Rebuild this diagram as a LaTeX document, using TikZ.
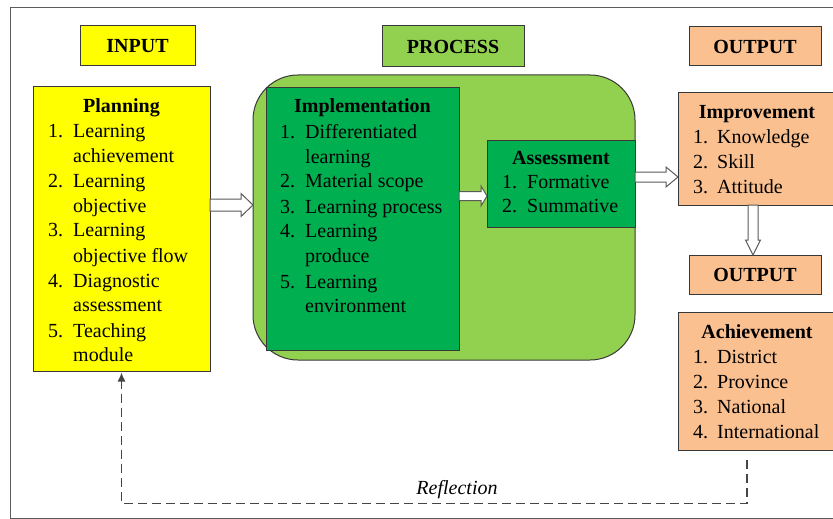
\documentclass[tikz,border=0pt]{standalone}
\usepackage{fontspec}
\setmainfont{Liberation Serif}
\usetikzlibrary{calc,arrows.meta}

\definecolor{inyellow}{HTML}{FFFF00}
\definecolor{procgreen}{HTML}{92D050}
\definecolor{stepgreen}{HTML}{00B050}
\definecolor{outpeach}{HTML}{FAC090}
\definecolor{boxline}{HTML}{383838}
\definecolor{arrowline}{HTML}{5A5A5A}
\definecolor{frameline}{HTML}{5C5C5C}
\definecolor{loopline}{HTML}{454545}

\newcommand{\diagfont}{\fontsize{20}{25}\selectfont}

% white block arrow pointing right, from tail #1 to tip #2
% #3 half shaft width, #4 half head width, #5 head length
\newcommand{\rightblockarrow}[5]{%
  \draw[blockarr] let \p1=#1, \p2=#2 in
    (\x1,\y1+#3) -- (\x2-#5,\y1+#3) -- (\x2-#5,\y1+#4) -- (\x2,\y1)
    -- (\x2-#5,\y1-#4) -- (\x2-#5,\y1-#3) -- (\x1,\y1-#3) -- cycle;}

\begin{document}
\begin{tikzpicture}[x=1pt,y=-1pt,font=\diagfont,
  boxbase/.style={draw=boxline,line width=1pt,inner sep=0pt,outer sep=0pt,anchor=north west},
  labelbox/.style={boxbase,anchor=north west,font=\diagfont\bfseries},
  titletext/.style={anchor=base,inner sep=0pt,font=\diagfont\bfseries},
  listtext/.style={anchor=base west,inner sep=0pt},
  blockarr/.style={draw=arrowline,fill=white,line width=1pt,line join=miter},
  reflline/.style={draw=loopline,line width=1.4pt,dash pattern=on 9pt off 5pt,
    shorten >=1.5pt,-{Latex[length=9pt,width=8pt]}}]

\useasboundingbox (0,0) rectangle (833,519);
\clip (0,0) rectangle (833,519);

% outer frame
\draw[frameline,line width=0.9pt] (10.5,7) rectangle (850,518);

% column headings
\node[labelbox,fill=inyellow,minimum width=115pt,minimum height=40pt] (inlabel) at (80,26) {INPUT};
\node[labelbox,fill=procgreen,minimum width=142pt,minimum height=41pt] (proclabel) at (382,26) {PROCESS};
\node[labelbox,fill=outpeach,minimum width=132pt,minimum height=39pt] (outlabel) at (689,27) {OUTPUT};

% input: planning
\node[boxbase,fill=inyellow,minimum width=177pt,minimum height=284pt] (plan) at (33,87) {};
\node[titletext] (plantitle) at ([yshift=-25pt]plan.north) {Planning};
\node[listtext] (planlist) at ([xshift=15pt,yshift=-50pt]plan.north west) {%
  \begin{tabular}[t]{@{}p{25pt}@{}l@{}}
  1. & Learning\\
     & achievement\\
  2. & Learning\\
     & objective\\
  3. & Learning\\
     & objective flow\\
  4. & Diagnostic\\
     & assessment\\
  5. & Teaching\\
     & module
  \end{tabular}};

% process
\node[boxbase,fill=procgreen,rounded corners=45pt,minimum width=382pt,minimum height=285pt] (procbg) at (253,75) {};

\node[boxbase,fill=stepgreen,minimum width=193pt,minimum height=262pt] (impl) at (266,88) {};
\node[titletext] (impltitle) at ([yshift=-25pt]impl.north) {Implementation};
\node[listtext] (impllist) at ([xshift=14pt,yshift=-50pt]impl.north west) {%
  \begin{tabular}[t]{@{}p{25pt}@{}l@{}}
  1. & Differentiated\\
     & learning\\
  2. & Material scope\\
  3. & Learning process\\
  4. & Learning\\
     & produce\\
  5. & Learning\\
     & environment
  \end{tabular}};

\node[boxbase,fill=stepgreen,minimum width=148pt,minimum height=87pt] (assess) at (487,140) {};
\node[titletext] (assesstitle) at ([yshift=-24.5pt]assess.north) {Assessment};
\node[listtext] (assesslist) at ([xshift=15pt,yshift=-48.5pt]assess.north west) {%
  \begin{tabular}[t]{@{}p{25pt}@{}l@{}}
  1. & Formative\\[-1.5pt]
  2. & Summative
  \end{tabular}};

% output: improvement
\node[boxbase,fill=outpeach,minimum width=170pt,minimum height=112pt] (improve) at (678,93) {};
\node[titletext] (improvetitle) at (757,118) {Improvement};
\node[listtext] (improvelist) at ([xshift=15pt,yshift=-50pt]improve.north west) {%
  \begin{tabular}[t]{@{}p{24pt}@{}l@{}}
  1. & Knowledge\\
  2. & Skill\\
  3. & Attitude
  \end{tabular}};

\node[labelbox,fill=outpeach,minimum width=132pt,minimum height=39pt] (outlabelb) at (689,255) {OUTPUT};

% output: achievement
\node[boxbase,fill=outpeach,minimum width=170pt,minimum height=138pt] (achieve) at (678,312) {};
\node[titletext] (achievetitle) at (757,338.5) {Achievement};
\node[listtext] (achievelist) at ([xshift=15pt,yshift=-51pt]achieve.north west) {%
  \begin{tabular}[t]{@{}p{24pt}@{}l@{}}
  1. & District\\
  2. & Province\\
  3. & National\\
  4. & International
  \end{tabular}};

% block arrows between the stages
\rightblockarrow{(plan.east |- 0,205)}{(procbg.west |- 0,205)}{6pt}{11.5pt}{12pt}
\rightblockarrow{(impl.east |- 0,196)}{(assess.west |- 0,196)}{4.5pt}{10pt}{6pt}
\rightblockarrow{(assess.east |- 0,177)}{(improve.west |- 0,177)}{5pt}{10pt}{12pt}
\draw[blockarr] let \p1=(improve.south -| 753,0), \p2=(outlabelb.north -| 753,0) in
  (\x1-5pt,\y1) -- (\x1-5pt,\y2+15pt) -- (\x1-7.5pt,\y2+15pt) -- (\x1,\y2)
  -- (\x1+7.5pt,\y2+15pt) -- (\x1+5pt,\y2+15pt) -- (\x1+5pt,\y1) -- cycle;

% reflection feedback loop
\coordinate (reflstart) at (747,460);
\coordinate (reflcorner) at (plan.south |- 0,503.5);
\draw[reflline] (reflstart) |- (reflcorner) -- (plan.south);
\node[inner sep=0pt,font=\diagfont\itshape] (refllabel) at (457,490) {Reflection};

\end{tikzpicture}
\end{document}
